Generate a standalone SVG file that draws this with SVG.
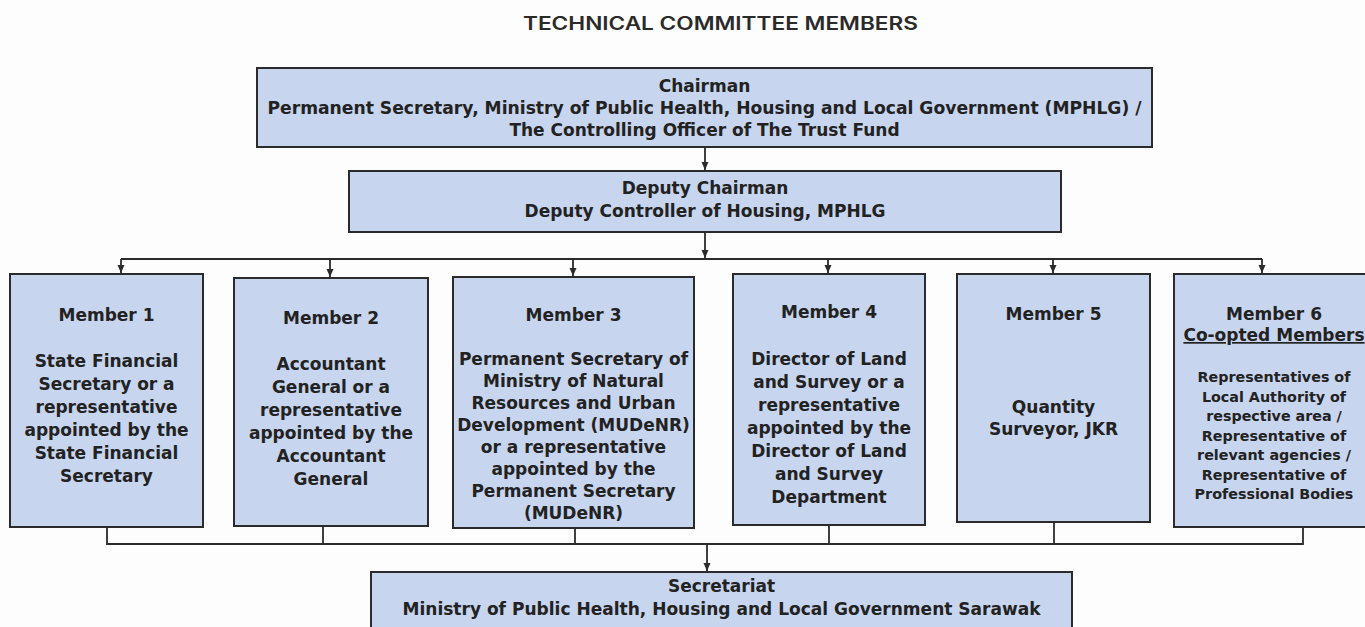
<svg xmlns="http://www.w3.org/2000/svg" width="1365" height="627" viewBox="0 0 1365 627">
<defs>
<marker id="arr" viewBox="0 0 8 8" refX="8" refY="4" markerWidth="8" markerHeight="8" markerUnits="userSpaceOnUse" orient="auto">
<path d="M0,0.5 L8,4 L0,7.5 Z" fill="#2b2b2b"/>
</marker>
<style>
.box{fill:#c8d5ee;stroke:#2b2b2b;stroke-width:2}
.t{font-family:"DejaVu Sans","Liberation Sans",sans-serif;font-weight:bold;font-size:17px;fill:#222;text-anchor:middle}
.s{font-size:14.3px}
.ln{fill:none;stroke:#2b2b2b;stroke-width:1.8}
.title{font-family:Inter,"Liberation Sans",sans-serif;font-weight:600;font-size:18px;fill:#2a2a2a;text-anchor:middle}
</style>
</defs>
<rect width="1365" height="627" fill="#fdfdfd"/>
<text class="title" x="720.5" y="30" textLength="395" lengthAdjust="spacingAndGlyphs">TECHNICAL COMMITTEE MEMBERS</text>

<g id="connectors">
<path class="ln" d="M705,147 V170" marker-end="url(#arr)"/>
<path class="ln" d="M705,232 V258" marker-end="url(#arr)"/>
<path class="ln" d="M121,259 H1262"/>
<path class="ln" d="M121,259 V273" marker-end="url(#arr)"/>
<path class="ln" d="M330,259 V277" marker-end="url(#arr)"/>
<path class="ln" d="M573,259 V276" marker-end="url(#arr)"/>
<path class="ln" d="M828,259 V273" marker-end="url(#arr)"/>
<path class="ln" d="M1053,259 V273" marker-end="url(#arr)"/>
<path class="ln" d="M1262,259 V273" marker-end="url(#arr)"/>
<path class="ln" d="M107,527 V544 H1303 V527"/>
<path class="ln" d="M323,526 V544"/>
<path class="ln" d="M575,528 V544"/>
<path class="ln" d="M829,525 V544"/>
<path class="ln" d="M1054,522 V544"/>
<path class="ln" d="M707,544 V571" marker-end="url(#arr)"/>
</g>

<g id="chairman">
<rect class="box" x="257" y="68" width="895" height="79"/>
<text class="t" x="704.5" y="92">Chairman</text>
<text class="t" x="704.5" y="114" textLength="874" lengthAdjust="spacingAndGlyphs">Permanent Secretary, Ministry of Public Health, Housing and Local Government (MPHLG) /</text>
<text class="t" x="704.5" y="136">The Controlling Officer of The Trust Fund</text>
</g>

<g id="deputy">
<rect class="box" x="349" y="171" width="712" height="61"/>
<text class="t" x="705" y="194">Deputy Chairman</text>
<text class="t" x="705" y="217">Deputy Controller of Housing, MPHLG</text>
</g>

<g id="member1">
<rect class="box" x="10" y="274" width="193" height="253"/>
<text class="t" x="106.5" y="321">Member 1</text>
<text class="t" x="106.5" y="367">State Financial</text>
<text class="t" x="106.5" y="390">Secretary or a</text>
<text class="t" x="106.5" y="413">representative</text>
<text class="t" x="106.5" y="436">appointed by the</text>
<text class="t" x="106.5" y="459">State Financial</text>
<text class="t" x="106.5" y="482">Secretary</text>
</g>

<g id="member2">
<rect class="box" x="234" y="278" width="194" height="248"/>
<text class="t" x="331" y="324">Member 2</text>
<text class="t" x="331" y="370">Accountant</text>
<text class="t" x="331" y="393">General or a</text>
<text class="t" x="331" y="416">representative</text>
<text class="t" x="331" y="439">appointed by the</text>
<text class="t" x="331" y="462">Accountant</text>
<text class="t" x="331" y="485">General</text>
</g>

<g id="member3">
<rect class="box" x="453" y="277" width="241" height="251"/>
<text class="t" x="573.5" y="321">Member 3</text>
<text class="t" x="573.5" y="365">Permanent Secretary of</text>
<text class="t" x="573.5" y="387">Ministry of Natural</text>
<text class="t" x="573.5" y="409">Resources and Urban</text>
<text class="t" x="573.5" y="431">Development (MUDeNR)</text>
<text class="t" x="573.5" y="453">or a representative</text>
<text class="t" x="573.5" y="475">appointed by the</text>
<text class="t" x="573.5" y="497">Permanent Secretary</text>
<text class="t" x="573.5" y="519">(MUDeNR)</text>
</g>

<g id="member4">
<rect class="box" x="733" y="274" width="192" height="251"/>
<text class="t" x="829" y="318">Member 4</text>
<text class="t" x="829" y="365">Director of Land</text>
<text class="t" x="829" y="388">and Survey or a</text>
<text class="t" x="829" y="411">representative</text>
<text class="t" x="829" y="434">appointed by the</text>
<text class="t" x="829" y="457">Director of Land</text>
<text class="t" x="829" y="480">and Survey</text>
<text class="t" x="829" y="503">Department</text>
</g>

<g id="member5">
<rect class="box" x="957" y="274" width="193" height="248"/>
<text class="t" x="1053.5" y="320">Member 5</text>
<text class="t" x="1053.5" y="413">Quantity</text>
<text class="t" x="1053.5" y="435">Surveyor, JKR</text>
</g>

<g id="member6">
<rect class="box" x="1174" y="274" width="200" height="253"/>
<text class="t" x="1274" y="320">Member 6</text>
<text class="t" x="1274" y="341" text-decoration="underline">Co-opted Members</text>
<text class="t s" x="1274" y="382">Representatives of</text>
<text class="t s" x="1274" y="402">Local Authority of</text>
<text class="t s" x="1274" y="421">respective area /</text>
<text class="t s" x="1274" y="441">Representative of</text>
<text class="t s" x="1274" y="460">relevant agencies /</text>
<text class="t s" x="1274" y="480">Representative of</text>
<text class="t s" x="1274" y="499">Professional Bodies</text>
</g>

<g id="secretariat">
<rect class="box" x="371" y="572" width="701" height="70"/>
<text class="t" x="721.5" y="592">Secretariat</text>
<text class="t" x="721.5" y="615" textLength="638" lengthAdjust="spacingAndGlyphs">Ministry of Public Health, Housing and Local Government Sarawak</text>
</g>
</svg>
